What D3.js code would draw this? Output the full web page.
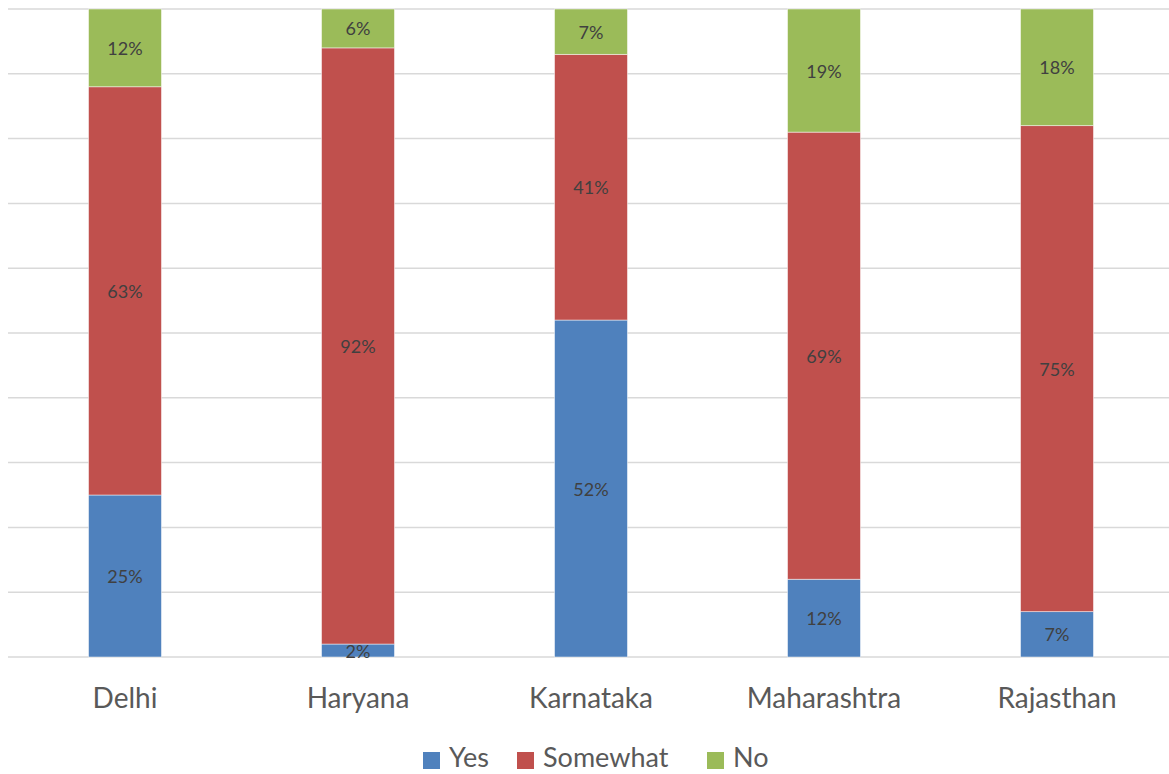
<!DOCTYPE html>
<html>
<head>
<meta charset="utf-8">
<script src="https://cdn.jsdelivr.net/npm/d3@7"></script>
<style>
  html, body { margin: 0; padding: 0; background: #fff; }
  svg { display: block; }
</style>
</head>
<body>
<svg id="chart" width="1169" height="774"></svg>
<script>
const categories = ["Delhi", "Haryana", "Karnataka", "Maharashtra", "Rajasthan"];
const seriesNames = ["Yes", "Somewhat", "No"];
const yesValues = [25, 2, 52, 12, 7];
const somewhatValues = [63, 92, 41, 69, 75];
const noValues = [12, 6, 7, 19, 18];
const yTicks = [0, 10, 20, 30, 40, 50, 60, 70, 80, 90, 100];
const colors = ["#4f81bd", "#c0504d", "#9bbb59"];

const svg = d3.select("#chart");
const W = 1169, H = 774;
const plot = { left: 8.5, right: 1173.5, top: 9, bottom: 657 };

const rows = categories.map((c, i) => ({
  cat: c, Yes: yesValues[i], Somewhat: somewhatValues[i], No: noValues[i]
}));

const x = d3.scaleBand().domain(categories)
  .range([plot.left, plot.right])
  .paddingInner(0.687).paddingOuter(0.3435);
const y = d3.scaleLinear().domain([0, 100]).range([plot.bottom, plot.top]);
const color = d3.scaleOrdinal().domain(seriesNames).range(colors);

// gridlines
svg.append("g").selectAll("line").data(yTicks).join("line")
  .attr("x1", 8).attr("x2", W)
  .attr("y1", d => y(d)).attr("y2", d => y(d))
  .attr("stroke", "#d9d9d9").attr("stroke-width", 1.5);

const stack = d3.stack().keys(seriesNames)(rows);

const layers = svg.append("g").selectAll("g").data(stack).join("g")
  .attr("fill", d => color(d.key));

layers.selectAll("rect").data(d => d).join("rect")
  .attr("x", d => x(d.data.cat))
  .attr("width", x.bandwidth())
  .attr("y", d => y(d[1]))
  .attr("height", d => y(d[0]) - y(d[1]))
  .attr("stroke", "#ffffff").attr("stroke-opacity", 0.6).attr("stroke-width", 0.8);

// data labels
const labels = svg.append("g");
stack.forEach(layer => {
  layer.forEach(d => {
    labels.append("text")
      .attr("x", x(d.data.cat) + x.bandwidth() / 2)
      .attr("y", (y(d[0]) + y(d[1])) / 2)
      .attr("text-anchor", "middle")
      .attr("dominant-baseline", "central")
      .attr("font-family", "Lato, 'Open Sans', sans-serif")
      .attr("font-size", 18)
      .attr("fill", "#404040")
      .text((d[1] - d[0]) + "%");
  });
});

// x axis
const xAxis = d3.axisBottom(x).tickSize(0).tickPadding(0);
const gx = svg.append("g").attr("transform", `translate(0,${plot.bottom})`).call(xAxis);
gx.select(".domain").remove();
gx.selectAll("text")
  .attr("y", 41)
  .attr("dy", "0.35em")
  .attr("font-family", "Lato, 'Open Sans', sans-serif")
  .attr("font-size", 28)
  .attr("fill", "#595959");

// legend
const legendItems = [
  { key: "Yes", sx: 423, tx: 449 },
  { key: "Somewhat", sx: 517, tx: 543 },
  { key: "No", sx: 707, tx: 733 }
];
const lg = svg.append("g");
legendItems.forEach(it => {
  lg.append("rect").attr("x", it.sx).attr("y", 752).attr("width", 17).attr("height", 17)
    .attr("fill", color(it.key));
  lg.append("text").attr("x", it.tx).attr("y", 758).attr("dy", "0.35em")
    .attr("font-family", "Lato, 'Open Sans', sans-serif")
    .attr("font-size", 27).attr("fill", "#595959").text(it.key);
});
</script>
</body>
</html>
